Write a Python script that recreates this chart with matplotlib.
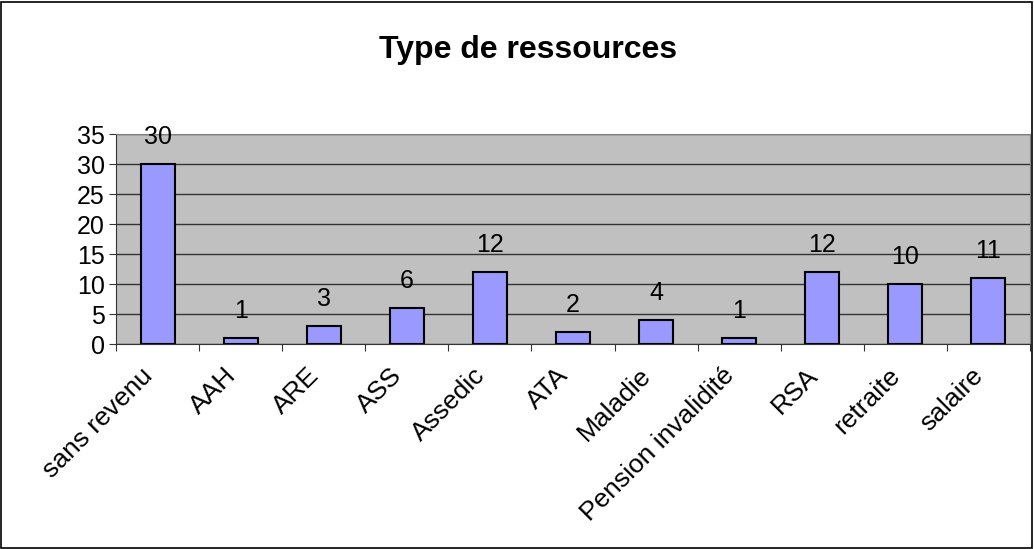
import matplotlib.pyplot as plt
import matplotlib.transforms as mtransforms
from matplotlib.patches import Rectangle

# Data
categories = ["sans revenu", "AAH", "ARE", "ASS", "Assedic", "ATA", "Maladie",
              "Pension invalidité", "RSA", "retraite", "salaire"]
counts = [30, 1, 3, 6, 12, 2, 4, 1, 12, 10, 11]

plt.rcParams['font.family'] = ['Liberation Sans', 'DejaVu Sans']

fig = plt.figure(figsize=(10.34, 5.49), dpi=100)
ax = fig.add_axes([0.1122, 0.3734, 0.8839, 0.3825])

x = list(range(len(categories)))
ax.bar(x, counts, width=0.41, color="#9999FF", edgecolor="black", linewidth=1.5, zorder=3)

for xi, v in zip(x, counts):
    ax.text(xi, v + 3.4, str(v), ha="center", va="baseline", fontsize=18)

ax.set_facecolor("#C0C0C0")
ax.set_xlim(-0.5, len(categories) - 0.5)
ax.set_ylim(0, 35)
ax.set_yticks(range(0, 36, 5))
ax.yaxis.grid(True, color="#333333", linewidth=1, zorder=0)
ax.set_axisbelow(True)

# category boundary ticks, labels centered on bars
ax.set_xticks([i - 0.5 for i in range(len(categories) + 1)])
ax.set_xticklabels([])
ax.set_xticks(x, minor=True)
ax.set_xticklabels(categories, minor=True, rotation=45, ha="right",
                   rotation_mode="anchor", fontsize=19)
ax.tick_params(axis="x", which="minor", length=0, pad=14)
ax.tick_params(axis="x", which="major", length=5, color="#333333")
ax.tick_params(axis="y", length=5, color="#333333", labelsize=18, pad=3)

shift = mtransforms.ScaledTranslation(-17 / 100, 0, fig.dpi_scale_trans)
for lbl in ax.get_xticklabels(minor=True):
    lbl.set_transform(lbl.get_transform() + shift)

for s in ["top", "right"]:
    ax.spines[s].set_color("#808080")
ax.spines["left"].set_color("#333333")
ax.spines["bottom"].set_color("#333333")

fig.text(0.5106, 0.909, "Type de ressources", ha="center", va="center",
         fontsize=23, fontweight="bold")

fig.patches.append(Rectangle((0.001, 0.002), 0.997, 0.995, transform=fig.transFigure,
                             fill=False, edgecolor="black", linewidth=1.2))

fig.savefig("out.png", dpi=100)
